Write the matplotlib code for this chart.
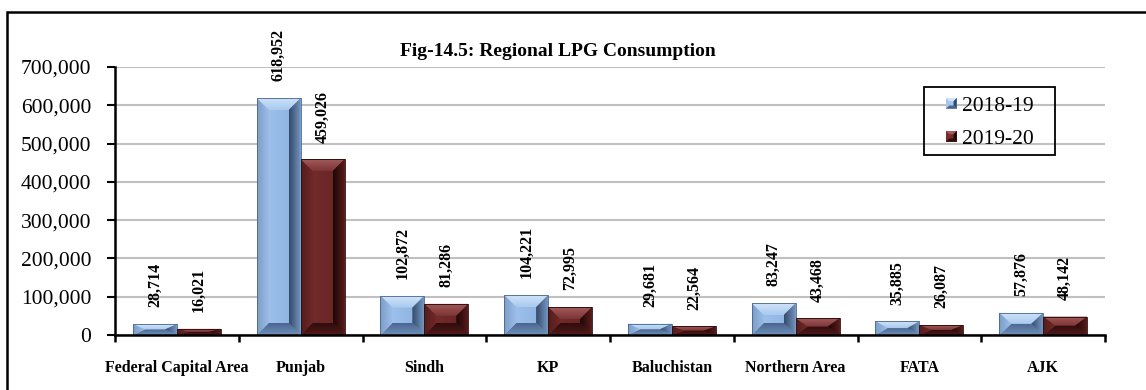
import numpy as np
import matplotlib
matplotlib.use("Agg")
import matplotlib.pyplot as plt
from matplotlib.colors import LinearSegmentedColormap
from matplotlib.patches import Polygon, Rectangle
from matplotlib.legend_handler import HandlerBase
from matplotlib.ticker import FuncFormatter, MultipleLocator

plt.rcParams['font.family'] = ['Liberation Serif', 'DejaVu Serif']

regions = ["Federal Capital Area", "Punjab", "Sindh", "KP", "Baluchistan",
           "Northern Area", "FATA", "AJK"]
years = ["2018-19", "2019-20"]
lpg_1819 = [28714, 618952, 102872, 104221, 29681, 83247, 35885, 57876]
lpg_1920 = [16021, 459026, 81286, 72995, 22564, 43468, 26087, 48142]

# facet gradients (start, end) for each face of the bevelled bar
blue = dict(centre=("#a2c6f0", "#8cb0de"), top=("#d0e4fa", "#a9c9ee"),
            left=("#7d9dc6", "#9abde8"), right=("#7596c0", "#33496a"),
            bottom=("#6f90b9", "#4a6690"), edge="#46648c")
maroon = dict(centre=("#772c2c", "#662424"), top=("#a25a5a", "#7c3434"),
              left=("#561c1c", "#6e2828"), right=("#5a1c1c", "#1c0606"),
              bottom=("#521a1a", "#300c0c"), edge="#240808")

W, H = 1146, 390
fig = plt.figure(figsize=(W / 100, H / 100), dpi=100)
ax = fig.add_axes([115 / W, 55 / H, 990 / W, 268 / H])

ymax = 700000
ax.set_xlim(0, len(regions))
ax.set_ylim(0, ymax)

# bevel depth in pixels, converted to data units
pos = ax.get_position()
bev_px = 12
bev_x = bev_px * len(regions) / (pos.width * W)
bev_y = bev_px * ymax / (pos.height * H)


def shade(ax, pts, cols, horizontal):
    """Fill a polygon with a linear gradient."""
    pts = np.asarray(pts)
    poly = Polygon(pts, closed=True, facecolor="none", edgecolor="none",
                   transform=ax.transData)
    ax.add_patch(poly)
    g = np.linspace(0, 1, 64)
    img = g.reshape(1, -1) if horizontal else g.reshape(-1, 1)[::-1]
    cmap = LinearSegmentedColormap.from_list("g", list(cols))
    im = ax.imshow(img, cmap=cmap, aspect="auto", interpolation="bilinear",
                   extent=(pts[:, 0].min(), pts[:, 0].max(),
                           pts[:, 1].min(), pts[:, 1].max()), zorder=3)
    im.set_clip_path(poly)


def bevel_bar(ax, x0, w, h, pal):
    x1 = x0 + w
    bx = min(bev_x, w / 2)
    by = min(bev_y, h / 2)
    shade(ax, [(x0, 0), (x1, 0), (x1, h), (x0, h)], pal["centre"], True)
    # top: light at the top edge; bottom: darker toward the base
    shade(ax, [(x0, h), (x1, h), (x1 - bx, h - by), (x0 + bx, h - by)],
          pal["top"][::-1], False)
    shade(ax, [(x0, 0), (x1, 0), (x1 - bx, by), (x0 + bx, by)],
          pal["bottom"], False)
    shade(ax, [(x0, 0), (x0, h), (x0 + bx, h - by), (x0 + bx, by)],
          pal["left"], True)
    shade(ax, [(x1, 0), (x1, h), (x1 - bx, h - by), (x1 - bx, by)],
          pal["right"][::-1], True)
    ax.add_patch(Rectangle((x0, 0), w, h, fill=False, edgecolor=pal["edge"],
                           linewidth=0.6, zorder=5))


bar_w = 0.355
x = np.arange(len(regions)) + 0.5
for vals, pal, off in [(lpg_1819, blue, -bar_w), (lpg_1920, maroon, 0.0)]:
    for xi, v in zip(x, vals):
        bevel_bar(ax, xi + off, bar_w, v, pal)
        ax.annotate(f"{v:,}", (xi + off + bar_w / 2, v), xytext=(0, 12),
                    textcoords="offset points", rotation=90, ha="center",
                    va="bottom", fontsize=11.5, fontweight="bold", zorder=6)

# axes styling
ax.yaxis.set_major_locator(MultipleLocator(100000))
ax.yaxis.set_major_formatter(FuncFormatter(lambda v, p: f"{int(v):,}"))
ax.grid(axis="y", color="#c0c0c0", linewidth=1.5, zorder=0)
ax.set_axisbelow(True)
for s in ["top", "right"]:
    ax.spines[s].set_visible(False)
for s in ["left", "bottom"]:
    ax.spines[s].set_linewidth(1.8)
    ax.spines[s].set_zorder(7)
ax.tick_params(axis="y", length=6, width=1.5, labelsize=15.5, pad=11)
ax.set_xticks(np.arange(len(regions) + 1))
ax.set_xticklabels([])
ax.set_xticks(x, minor=True)
ax.set_xticklabels(regions, minor=True, fontsize=11.5, fontweight="bold")
ax.tick_params(axis="x", which="major", length=5, width=1.8)
ax.tick_params(axis="x", which="minor", length=0, pad=18)

fig.text(558 / W, 1 - 56 / H, "Fig-14.5: Regional LPG Consumption",
         ha="center", va="baseline", fontsize=14, fontweight="bold")


class BevelHandler(HandlerBase):
    def __init__(self, pal):
        super().__init__()
        self.pal = pal

    def create_artists(self, legend, orig_handle, xdescent, ydescent, width,
                       height, fontsize, trans):
        s = min(width, height)
        x0, y0 = -xdescent, -ydescent + (height - s) / 2
        b = s * 0.3
        p = self.pal
        arts = [Rectangle((x0, y0), s, s, facecolor=p["centre"][0],
                          edgecolor="none", transform=trans)]
        facets = [
            ([(x0, y0 + s), (x0 + s, y0 + s), (x0 + s - b, y0 + s - b), (x0 + b, y0 + s - b)], p["top"][0]),
            ([(x0, y0), (x0 + s, y0), (x0 + s - b, y0 + b), (x0 + b, y0 + b)], p["bottom"][1]),
            ([(x0 + s, y0), (x0 + s, y0 + s), (x0 + s - b, y0 + s - b), (x0 + s - b, y0 + b)], p["right"][1]),
        ]
        for pts, col in facets:
            arts.append(Polygon(pts, closed=True, facecolor=col, edgecolor="none",
                                transform=trans))
        return arts


h1 = Rectangle((0, 0), 1, 1)
h2 = Rectangle((0, 0), 1, 1)
leg = ax.legend([h1, h2], years, loc="upper left",
                bbox_to_anchor=(946 / W, 1 - 97 / H), bbox_transform=fig.transFigure,
                frameon=False, fontsize=15.5, borderpad=0, borderaxespad=0,
                handlelength=0.5, handleheight=0.5, handletextpad=0.25,
                labelspacing=0.65,
                handler_map={h1: BevelHandler(blue), h2: BevelHandler(maroon)})
fig.patches.append(Rectangle((924 / W, 1 - 155 / H), 131 / W, 68 / H,
                             transform=fig.transFigure, fill=False,
                             edgecolor="black", linewidth=1.3, zorder=10))

# outer frame around the whole chart
fig.patches.append(Rectangle((7 / W, -0.1), 1.2, 1.1 - 12 / H,
                             transform=fig.transFigure, fill=False,
                             edgecolor="black", linewidth=1.8))

fig.savefig("out.png", dpi=100)
